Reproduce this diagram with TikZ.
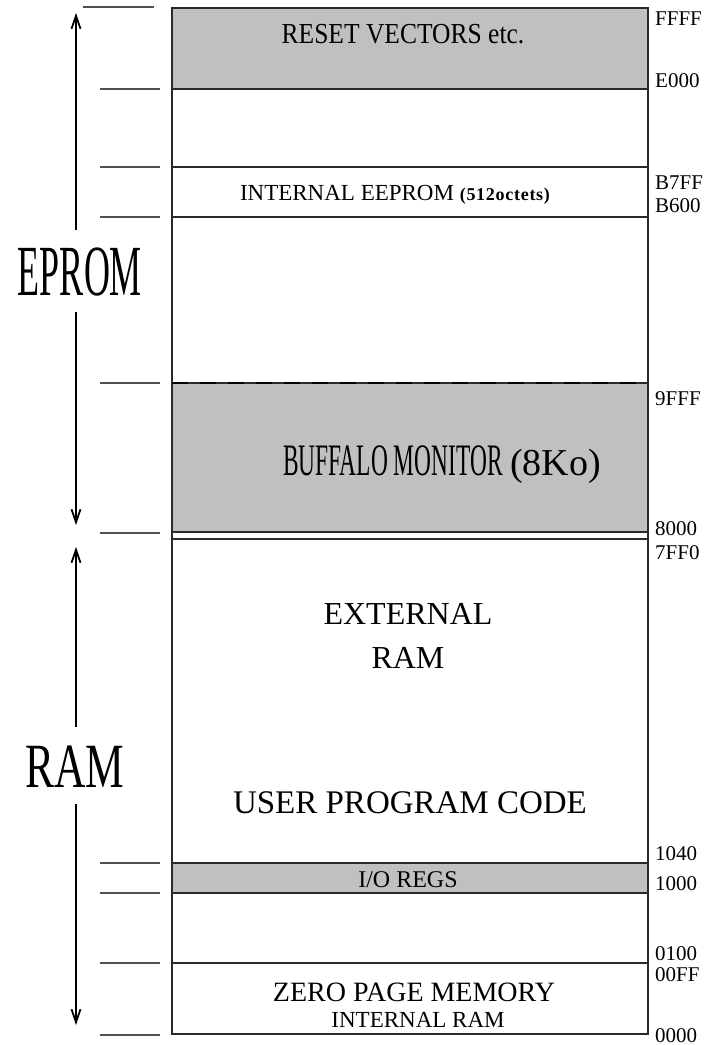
\documentclass[tikz,border=0pt]{standalone}
\usepackage{fontspec}
\setmainfont{Liberation Serif}
\usetikzlibrary{arrows.meta}
\definecolor{memGray}{HTML}{C0C0C0}
\definecolor{lineDark}{HTML}{2A2A2A}
\definecolor{tickGray}{HTML}{505050}
\newcommand{\memsize}[1]{\fontsize{#1}{#1}\selectfont}
\tikzset{
  boxline/.style={draw=lineDark, line width=1.3pt},
  dashline/.style={draw=black, line width=2.6pt, dash pattern=on 16pt off 12pt},
  tickline/.style={draw=tickGray, line width=1.2pt},
  memarrow/.style={-{Straight Barb[length=13pt, width=9pt]}, line width=1.8pt},
  addr/.style={anchor=base west, inner sep=0pt, font=\memsize{21}},
  region/.style={anchor=base, inner sep=0pt, align=center},
  sidelabel/.style={anchor=base, inner xsep=0pt, inner ysep=17pt, text depth=0pt},
}

\begin{document}
\begin{tikzpicture}[x=1pt, y=-1pt]
  \useasboundingbox (0,0) rectangle (715,1045);

  % shaded blocks
  \fill[memGray] (172,8) rectangle (648,89);
  \fill[memGray] (172,383) rectangle (648,532);
  \fill[memGray] (172,863) rectangle (648,893);

  % memory outline and boundaries
  \draw[boxline] (172,8) rectangle (648,1034);
  \foreach \y in {89,167,217,383,532,539,863,893,963}
    \draw[boxline] (172,\y) -- (648,\y);
  \draw[dashline] (172,383) -- (648,383);

  % ticks on the left
  \draw[tickline] (83,7) -- (154,7);
  \foreach \y in {89,167,217,383,533,863,893,963,1035}
    \draw[tickline] (100,\y) -- (160,\y);

  % addresses
  \foreach \y/\a in {25/FFFF, 87/E000, 189/B7FF, 212/B600, 405/9FFF, 535/8000,
                     559/7FF0, 860/1040, 890/1000, 960/0100, 981/00FF, 1042/0000}
    \node[addr] (adr\a) at (655,\y) {\a};

  % block names
  \node[region, font=\memsize{29}] (reset) at (403,43) {\scalebox{0.88}[1]{RESET VECTORS etc.}};
  \node[region, font=\memsize{23}] (eeprom) at (395,200)
    {INTERNAL EEPROM {\memsize{18}\bfseries\addfontfeatures{LetterSpace=4}(512octets)}};
  \node[region] (buffalo) at (442,475)
    {\memsize{45}\scalebox{0.52}[1]{BUFFALO MONITOR}\,{\memsize{38}(8Ko)}};
  \node[region, font=\fontsize{32}{44}\selectfont] (extram) at (408,668) {EXTERNAL\\RAM};
  \node[region, font=\memsize{33}] (userprog) at (410,813) {USER PROGRAM CODE};
  \node[region, font=\memsize{24}] (ioregs) at (408,887) {I/O REGS};
  \node[region, font=\memsize{28}] (zeropage) at (414,1001) {ZERO PAGE MEMORY};
  \node[region, font=\memsize{23}] (intram) at (418,1027) {INTERNAL RAM};

  % side labels with their ranges
  \node[sidelabel, font=\memsize{72}, text height=48pt] (eprom) at (80,295) {\scalebox{0.5}[1]{EPROM}};
  \node[sidelabel, font=\memsize{63}, text height=43pt] (ram) at (75,787) {\scalebox{0.69}[1]{RAM}};
  \coordinate (epromTop) at (76,13);
  \coordinate (epromBot) at (76,525);
  \coordinate (ramTop) at (76,547);
  \coordinate (ramBot) at (76,1025);
  \draw[memarrow] (eprom.north -| epromTop) -- (epromTop);
  \draw[memarrow] (eprom.south -| epromBot) -- (epromBot);
  \draw[memarrow] (ram.north -| ramTop) -- (ramTop);
  \draw[memarrow] (ram.south -| ramBot) -- (ramBot);

\end{tikzpicture}
\end{document}
